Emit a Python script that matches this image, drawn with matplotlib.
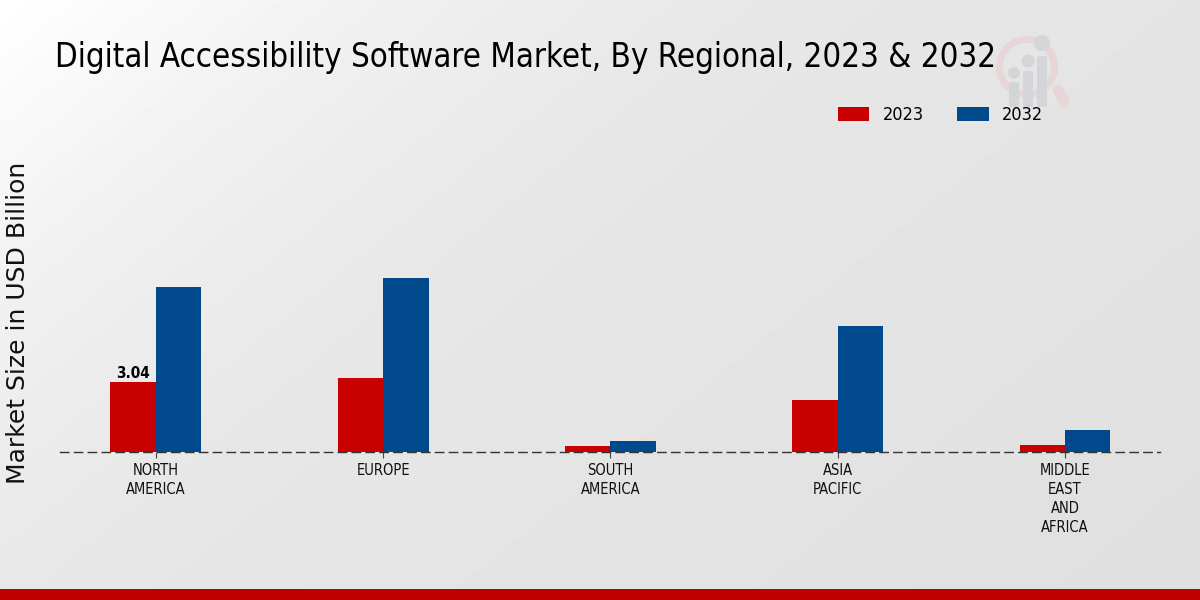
import numpy as np
import matplotlib
matplotlib.use('Agg')
import matplotlib.pyplot as plt
from matplotlib.patches import Circle, FancyBboxPatch, Rectangle, Wedge

regions = ['NORTH\nAMERICA', 'EUROPE', 'SOUTH\nAMERICA', 'ASIA\nPACIFIC', 'MIDDLE\nEAST\nAND\nAFRICA']
values_2023 = [3.04, 3.2, 0.25, 2.24, 0.3]
values_2032 = [7.1, 7.5, 0.47, 5.43, 0.95]

red = '#c80000'
blue = '#00498c'
condensed = dict(family='DejaVu Sans', stretch='condensed')

fig = plt.figure(figsize=(12, 6), dpi=100)

# background gradient and bottom strip, in pixel coords
bg = fig.add_axes([0, 0, 1, 1], zorder=0)
gx, gy = np.meshgrid(np.linspace(0, 1, 300), np.linspace(0, 1, 150))
t = gx * 0.62 + gy * 0.38
shade = np.interp(t, [0, 0.2, 0.4, 1], [0, 0.06, 0.095, 0.125])
bg.imshow(1 - shade, cmap='gray', vmin=0, vmax=1, extent=[0, 1200, 600, 0], aspect='auto')
bg.add_patch(Rectangle((0, 589), 1200, 11, color='#c00000', lw=0))

# logo
bg.add_patch(Wedge((1027, 67), 31, 0, 360, width=7, color='#e6d6d7', lw=0))
bg.plot([1058, 1064], [90, 102], color='#e6d6d7', lw=8, solid_capstyle='round')
for cx, top, cy, r in [(1014, 82, 73, 6), (1028, 71, 61, 6.5), (1042, 56, 43, 8)]:
    bg.add_patch(FancyBboxPatch((cx - 3, top + 2), 6, 103 - top, boxstyle='round,pad=2', color='#d3d5d8', lw=0))
    bg.add_patch(Circle((cx, cy), r, color='#d3d5d8', lw=0))
bg.set_xlim(0, 1200)
bg.set_ylim(600, 0)
bg.axis('off')

ax = fig.add_axes([60 / 1200, (600 - 452) / 600, 1100 / 1200, 352 / 600], zorder=1)
ax.patch.set_alpha(0)

x = np.arange(len(regions))
w = 0.2
ax.bar(x - w / 2, values_2023, w, color=red, linewidth=0, label='2023')
ax.bar(x + w / 2, values_2032, w, color=blue, linewidth=0, label='2032')

ax.text(x[0] - w / 2, values_2023[0] + 0.02, '%.2f' % values_2023[0], ha='center', va='bottom',
        fontsize=11, fontweight='bold', **condensed)

ax.set_xlim(-0.422, 4.418)
ax.set_ylim(0, 352 * 3.04 / 70.5)
ax.set_xticks(x)
ax.set_xticklabels(regions, fontsize=10.5, linespacing=1.32, **condensed)
ax.tick_params(axis='x', length=4, width=0.8, color='#444444', pad=4, labelcolor='#111111')
ax.set_yticks([])
for s in ['top', 'left', 'right']:
    ax.spines[s].set_visible(False)
ax.spines['bottom'].set_linestyle((0, (6, 4)))
ax.spines['bottom'].set_color('#333333')
ax.spines['bottom'].set_linewidth(1)

fig.text(55 / 1200, 1 - 58 / 600, 'Digital Accessibility Software Market, By Regional, 2023 & 2032',
         fontsize=23.7, va='center', ha='left', color='black', zorder=3, **condensed)
fig.text(18 / 1200, 1 - 323 / 600, 'Market Size in USD Billion', fontsize=18, rotation=90,
         va='center', ha='center', color='#111111', zorder=3)

handles, labels = ax.get_legend_handles_labels()
fig.legend(handles, labels, loc='center', bbox_to_anchor=(940.5 / 1200, 1 - 115 / 600), ncol=2, frameon=False,
           handlelength=1.77, handleheight=0.8, columnspacing=1.87, handletextpad=0.72,
           prop=dict(size=13, **condensed))

fig.savefig('out.png', dpi=100)
